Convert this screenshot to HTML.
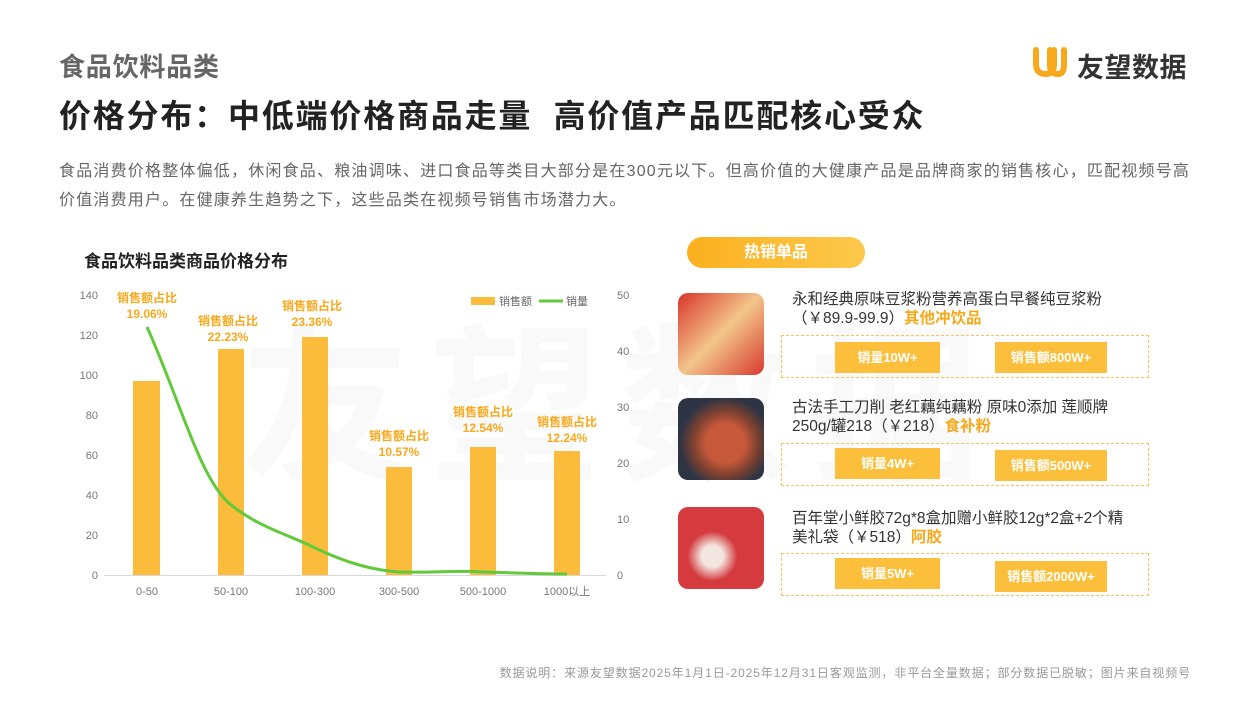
<!DOCTYPE html>
<html><head><meta charset="utf-8"><style>
*{margin:0;padding:0;box-sizing:border-box}
body{width:1250px;height:703px;background:#fff;font-family:"Liberation Sans","Noto Sans CJK SC",sans-serif;position:relative;overflow:hidden;color:#333}
.a{position:absolute;white-space:nowrap}
.btn{position:absolute;background:#fbbf3c;color:#fff;font-weight:bold;font-size:13px;text-align:center;line-height:31px;height:31px}
.box{position:absolute;border:1.5px dashed #f8c45a;left:781px;width:368px;height:43px}
.img{position:absolute;left:678px;width:86px;height:82px;border-radius:10px}
.t{position:absolute;left:792px;font-size:15.5px;color:#333;line-height:19px;white-space:nowrap}
.o{color:#f7a81b;font-weight:bold}
</style></head><body>
<div class="a" style="left:240px;top:270px;font-size:170px;font-weight:bold;color:#f9f9f9;letter-spacing:20px">友望数据</div>
<div class="a" style="left:59px;top:47px;font-size:26px;font-weight:bold;color:#666;letter-spacing:0.8px">食品饮料品类</div>
<div class="a" style="left:59px;top:91px;font-size:32px;font-weight:bold;color:#222;letter-spacing:1.8px">价格分布：中低端价格商品走量&nbsp; 高价值产品匹配核心受众</div>
<div class="a" style="left:59px;top:157px;font-size:16px;color:#666;line-height:29px;letter-spacing:1.2px">食品消费价格整体偏低，休闲食品、粮油调味、进口食品等类目大部分是在300元以下。但高价值的大健康产品是品牌商家的销售核心，匹配视频号高<br>价值消费用户。在健康养生趋势之下，这些品类在视频号销售市场潜力大。</div>
<svg class="a" style="left:1032px;top:46px" width="36" height="32"><path d="M4 4 V18 Q4 28 14 28 Q22 28 22 18 V4 M18 4 V20 Q18 28 26 28 Q32 28 32 18 V4" stroke="#f7a81b" stroke-width="6" fill="none" stroke-linecap="round"/></svg>
<div class="a" style="left:1077px;top:46px;font-size:27px;font-weight:bold;color:#333;letter-spacing:0.5px">友望数据</div>
<div class="a" style="left:84px;top:247px;font-size:17px;font-weight:bold;color:#222">食品饮料品类商品价格分布</div>
<svg class="a" style="left:0;top:0" width="660" height="620" font-family="Liberation Sans,Noto Sans CJK SC,sans-serif">
<g font-size="11" fill="#777" text-anchor="end">
<text x="98" y="579">0</text><text x="98" y="539">20</text><text x="98" y="499">40</text><text x="98" y="459">60</text><text x="98" y="419">80</text><text x="98" y="379">100</text><text x="98" y="339">120</text><text x="98" y="299">140</text></g>
<g font-size="11" fill="#777"><text x="617" y="579">0</text><text x="617" y="523">10</text><text x="617" y="467">20</text><text x="617" y="411">30</text><text x="617" y="355">40</text><text x="617" y="299">50</text></g>
<line x1="104" y1="575.5" x2="606" y2="575.5" stroke="#d9d9d9"/>
<g fill="#fbbc3b"><rect x="133" y="381" width="27" height="194"/><rect x="218" y="349" width="26" height="226"/><rect x="302" y="337" width="26" height="238"/><rect x="386" y="467" width="26" height="108"/><rect x="470" y="447" width="26" height="128"/><rect x="554" y="451" width="26" height="124"/></g>
<path d="M147 327 C180 400 200 480 231 505 C260 528 290 535 315 548 C345 562 370 570 399 572 C430 573 460 570 483 572 C520 573 545 574 567 574" stroke="#62c93b" stroke-width="3" fill="none"/>
<g font-size="11" fill="#777" text-anchor="middle"><text x="147" y="595">0-50</text><text x="231" y="595">50-100</text><text x="315" y="595">100-300</text><text x="399" y="595">300-500</text><text x="483" y="595">500-1000</text><text x="567" y="595">1000以上</text></g>
<g font-size="12" font-weight="bold" fill="#f7a81b" text-anchor="middle">
<text x="147" y="302">销售额占比</text><text x="147" y="318">19.06%</text>
<text x="228" y="325">销售额占比</text><text x="228" y="341">22.23%</text>
<text x="312" y="310">销售额占比</text><text x="312" y="326">23.36%</text>
<text x="399" y="440">销售额占比</text><text x="399" y="456">10.57%</text>
<text x="483" y="416">销售额占比</text><text x="483" y="432">12.54%</text>
<text x="567" y="426">销售额占比</text><text x="567" y="442">12.24%</text></g>
<rect x="471" y="297" width="24" height="8" fill="#fbbc3b"/><text x="499" y="305" font-size="11" fill="#666">销售额</text>
<line x1="539" y1="301" x2="563" y2="301" stroke="#62c93b" stroke-width="3"/><text x="566" y="305" font-size="11" fill="#666">销量</text>
</svg>
<div class="a" style="left:687px;top:237px;width:178px;height:31px;border-radius:16px;background:linear-gradient(90deg,#fbb01e,#fdc94c);color:#fff;font-size:16px;font-weight:bold;text-align:center;line-height:31px">热销单品</div>
<div class="img" style="top:293px;background:linear-gradient(135deg,#d9352b,#f2c58a 50%,#d83a2e)"></div>
<div class="img" style="top:398px;background:radial-gradient(circle at 55% 55%,#c8583a 30%,#7a4030 50%,#2d3444 70%)"></div>
<div class="img" style="top:507px;background:radial-gradient(circle at 40% 60%,#f3e6e0 15%,#d43a3e 35%)"></div>
<div class="t" style="top:290px">永和经典原味豆浆粉营养高蛋白早餐纯豆浆粉<br>（￥89.9-99.9）<span class="o">其他冲饮品</span></div>
<div class="t" style="top:398px">古法手工刀削 老红藕纯藕粉 原味0添加 莲顺牌<br>250g/罐218（￥218）<span class="o">食补粉</span></div>
<div class="t" style="top:509px">百年堂小鲜胶72g*8盒加赠小鲜胶12g*2盒+2个精<br>美礼袋（￥518）<span class="o">阿胶</span></div>
<div class="box" style="top:335px"></div><div class="box" style="top:443px"></div><div class="box" style="top:553px"></div>
<div class="btn" style="left:835px;top:342px;width:105px">销量10W+</div>
<div class="btn" style="left:995px;top:342px;width:112px">销售额800W+</div>
<div class="btn" style="left:835px;top:448px;width:105px">销量4W+</div>
<div class="btn" style="left:995px;top:450px;width:112px">销售额500W+</div>
<div class="btn" style="left:835px;top:558px;width:105px">销量5W+</div>
<div class="btn" style="left:995px;top:561px;width:112px">销售额2000W+</div>
<div class="a" style="right:59px;top:664px;font-size:12px;color:#999;letter-spacing:0.9px">数据说明：来源友望数据2025年1月1日-2025年12月31日客观监测，非平台全量数据；部分数据已脱敏；图片来自视频号</div>
</body></html>
